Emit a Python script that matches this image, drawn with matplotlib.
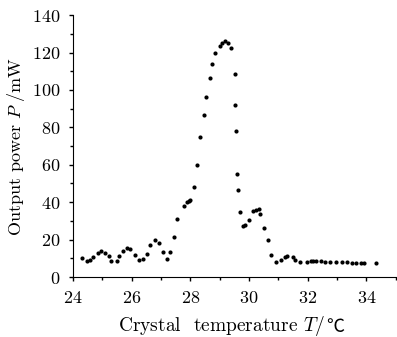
import matplotlib
matplotlib.use('Agg')
import matplotlib.pyplot as plt
from matplotlib.ticker import MultipleLocator

plt.rcParams['font.family'] = ['cmr10', 'DejaVu Serif', 'Noto Sans CJK SC']
plt.rcParams['mathtext.fontset'] = 'cm'
plt.rcParams['axes.formatter.use_mathtext'] = True

# crystal temperature (degC) and output power (mW)
temperature = [
    24.30, 24.47, 24.58, 24.69, 24.86, 24.94, 25.09, 25.22, 25.28, 25.49,
    25.58, 25.69, 25.83, 25.94, 26.11, 26.26, 26.37, 26.51, 26.62, 26.81,
    26.93, 27.07, 27.19, 27.32, 27.44, 27.55, 27.78, 27.89, 27.96, 28.00,
    28.12, 28.21, 28.34, 28.47, 28.52, 28.66, 28.74, 28.83, 29.00, 29.09,
    29.18, 29.29, 29.37, 29.51, 29.53, 29.57, 29.60, 29.62, 29.70, 29.79,
    29.87, 29.98, 30.13, 30.22, 30.33, 30.38, 30.52, 30.63, 30.76, 30.90,
    31.09, 31.21, 31.30, 31.48, 31.57, 31.74, 31.97, 32.10, 32.17, 32.27,
    32.46, 32.59, 32.77, 32.97, 33.15, 33.33, 33.50, 33.66, 33.82, 33.91,
    34.31,
]
power = [
    10.0, 8.5, 9.1, 10.9, 13.0, 14.1, 13.0, 11.2, 8.7, 8.7,
    11.2, 13.7, 15.3, 14.8, 11.9, 9.1, 9.4, 12.5, 17.3, 19.9,
    18.0, 13.2, 9.4, 13.2, 21.2, 30.8, 38.1, 40.1, 40.6, 41.2,
    48.3, 59.9, 74.8, 86.6, 96.4, 106.4, 113.8, 119.7, 123.3, 125.2,
    126.0, 125.2, 122.2, 108.3, 92.1, 78.0, 55.2, 46.5, 34.9, 27.4,
    28.0, 30.5, 35.3, 35.6, 36.2, 33.7, 26.4, 19.8, 11.6, 8.2,
    9.1, 10.5, 11.1, 10.5, 9.1, 8.0, 8.2, 8.7, 8.7, 8.7,
    8.4, 7.9, 7.9, 7.9, 7.9, 7.9, 7.7, 7.7, 7.7, 7.7,
    7.7,
]

fig = plt.figure(figsize=(3.97, 3.37), dpi=100)
ax = fig.add_axes([0.184, 0.178, 0.813, 0.777])

ax.plot(temperature, power, 'o', color='black', ms=3, mec='none')

ax.set_xlim(24, 35)
ax.set_ylim(0, 140)
ax.xaxis.set_major_locator(MultipleLocator(2))
ax.xaxis.set_minor_locator(MultipleLocator(1))
ax.yaxis.set_major_locator(MultipleLocator(20))
ax.yaxis.set_minor_locator(MultipleLocator(10))
ax.tick_params(which='both', direction='out', labelsize=13, width=1)
ax.tick_params(which='major', length=3)
ax.tick_params(which='minor', length=2)
ax.tick_params(axis='x', pad=6)
ax.tick_params(axis='y', pad=6)

for side in ('top', 'right'):
    ax.spines[side].set_visible(False)

# cmr10 has no degree-Celsius sign, so it is drawn after the label
ax.set_xlabel('Crystal  temperature $T$/', fontsize=14, labelpad=6)
ax.xaxis.label.set_x(0.46)
ax.annotate('\u2103', xy=(1, 0), xycoords=ax.xaxis.label,
            xytext=(0.5, 1), textcoords='offset points',
            ha='left', va='bottom', fontsize=13,
            family='Noto Sans CJK SC', weight='light')
ax.set_ylabel('Output power $P$ /mW', fontsize=13, labelpad=4)

fig.savefig('out.png', dpi=100)
